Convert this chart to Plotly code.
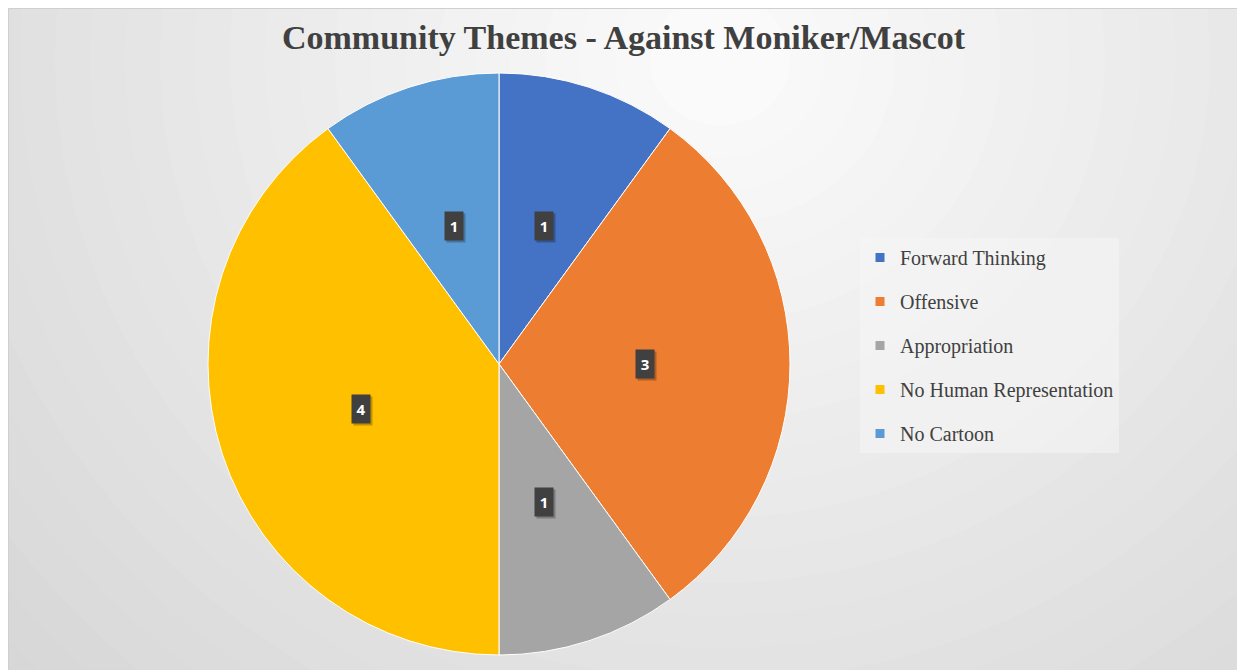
import math
import plotly.graph_objects as go

# ---- data ----
categories = ["Forward Thinking", "Offensive", "Appropriation",
              "No Human Representation", "No Cartoon"]
counts = [1, 3, 1, 4, 1]
colors = ["#4472C4", "#ED7D31", "#A5A5A5", "#FFC000", "#5B9BD5"]
title_text = "Community Themes - Against Moniker/Mascot"

OFF = 8                      # page body margin of the html page
W, H = 1245 - OFF, 670 - OFF


def fx(px):                  # window pixel -> paper x
    return (px - OFF) / W


def fy(py):                  # window pixel -> paper y
    return 1 - (py - OFF) / H


# pie placement (window pixels)
PCX, PCY, PR = 499, 364, 291
dom_x = [fx(PCX - PR), fx(PCX + PR)]
dom_y = [fy(PCY + PR), fy(PCY - PR)]

fig = go.Figure()
fig.add_trace(go.Pie(
    labels=categories, values=counts, sort=False, direction="clockwise",
    rotation=0, marker=dict(colors=colors, line=dict(color="white", width=1)),
    textinfo="none", hoverinfo="label+value", showlegend=False,
    domain=dict(x=dom_x, y=dom_y),
))

# legend entries (one per category)
for lab, col in zip(categories, colors):
    fig.add_trace(go.Scatter(
        x=[None], y=[None], mode="markers", name=lab, legendgroup=lab,
        marker=dict(symbol="square", size=9, color=col), showlegend=True,
        hoverinfo="skip",
    ))

# data labels: dark boxes at half radius of each slice
total = sum(counts)
cum = 0
annotations = []
for v in counts:
    ang = 2 * math.pi * (cum + v / 2) / total
    cum += v
    px = PCX + 0.5 * PR * math.sin(ang)
    py = PCY - 0.5 * PR * math.cos(ang)
    xp, yp = fx(px), fy(py)
    annotations.append(dict(
        x=xp, y=yp, xref="paper", yref="paper", text=" ", showarrow=False,
        xanchor="center", yanchor="middle",
        bgcolor="rgba(0,0,0,0.25)", width=12, height=22, borderpad=3,
        xshift=2, yshift=-2))
    annotations.append(dict(
        x=xp, y=yp, xref="paper", yref="paper", text="<b>%d</b>" % v,
        showarrow=False, xanchor="center", yanchor="middle",
        bgcolor="#404040", width=12, height=22, borderpad=3,
        font=dict(family="Open Sans", size=15, color="white")))

# background: soft radial gradient (style only)
shapes = []
GX, GY, RX, RY = 720, 60, 750, 700
steps = 30
for i in range(steps, 0, -1):
    d = 1.4 * i / steps
    c = int(max(205, min(250, 253 - 29 * d)))
    shapes.append(dict(
        type="circle", xref="paper", yref="paper", layer="below",
        x0=fx(GX - RX * d), x1=fx(GX + RX * d),
        y0=fy(GY + RY * d), y1=fy(GY - RY * d),
        fillcolor="rgb(%d,%d,%d)" % (c, c, c), line=dict(width=0)))
# white beyond the right edge of the chart frame
shapes.append(dict(type="rect", xref="paper", yref="paper", layer="below",
                   x0=fx(1243), x1=fx(1260), y0=-0.05, y1=1.05,
                   fillcolor="white", line=dict(width=0)))
shapes.append(dict(type="rect", xref="paper", yref="paper", layer="below",
                   x0=fx(8.5), x1=fx(1243), y0=-0.05, y1=fy(8.5),
                   fillcolor="rgba(0,0,0,0)", line=dict(color="#cfcfcf", width=1)))

fig.update_layout(
    width=W, height=H,
    margin=dict(l=0, r=0, t=0, b=0),
    paper_bgcolor="white", plot_bgcolor="rgba(0,0,0,0)",
    title=dict(text="<b>" + title_text + "</b>", x=0.5 * (fx(281) + fx(966)),
               xanchor="center", y=fy(37), yanchor="middle",
               font=dict(family="Liberation Serif", size=34, color="#404040")),
    xaxis=dict(visible=False), yaxis=dict(visible=False),
    legend=dict(x=fx(860), y=fy(238), xanchor="left", yanchor="top",
                bgcolor="rgba(245,245,245,0.55)", borderwidth=0,
                tracegroupgap=15, traceorder="grouped",
                font=dict(family="Liberation Serif", size=20, color="#404040")),
    annotations=annotations, shapes=shapes,
)

fig.write_html("out.html")
